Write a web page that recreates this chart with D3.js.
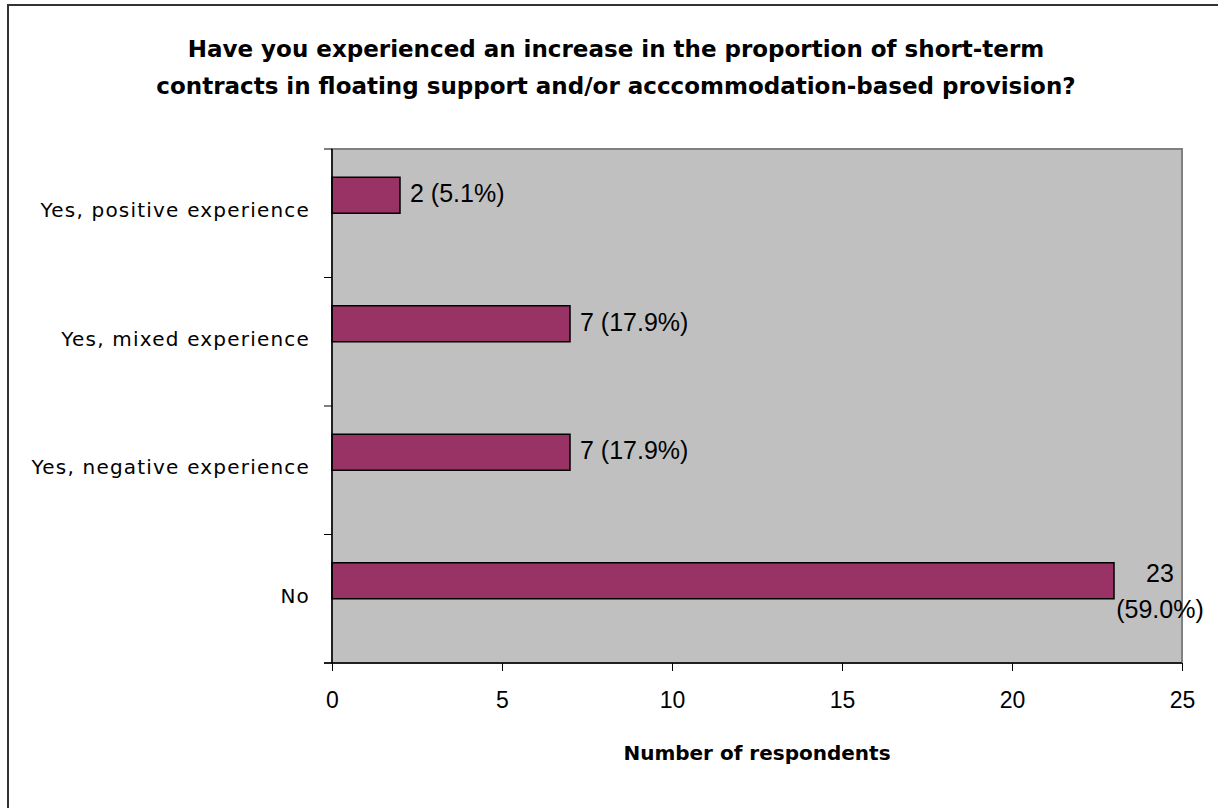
<!DOCTYPE html>
<html>
<head>
<meta charset="utf-8">
<script src="https://cdn.jsdelivr.net/npm/d3@7"></script>
<style>
  body { margin: 0; background: #fff; }
  svg { display: block; }
  .cat text { font-family: "DejaVu Sans", Verdana, sans-serif; font-size: 20px; letter-spacing: 1.2px; fill: #000; }
  .xaxis text { font-family: "Liberation Sans", Arial, sans-serif; font-size: 23px; fill: #000; }
  .val { font-family: "Liberation Sans", Arial, sans-serif; font-size: 25px; fill: #000; }
  .title { font-family: "DejaVu Sans", Verdana, sans-serif; font-weight: bold; font-size: 23px; }
</style>
</head>
<body>
<script>
// data
const categories = ["Yes, positive experience", "Yes, mixed experience", "Yes, negative experience", "No"];
const counts = [2, 7, 7, 23];
const labels = ["2 (5.1%)", "7 (17.9%)", "7 (17.9%)", "23 (59.0%)"];
const xTicks = [0, 5, 10, 15, 20, 25];
const titleLines = ["Have you experienced an increase in the proportion of short-term",
                    "contracts in floating support and/or acccommodation-based provision?"];

const W = 1218, H = 808;
const plot = { left: 332, top: 149, right: 1182, bottom: 663 };
const barH = 36;

const svg = d3.select("body").append("svg")
    .attr("width", W)
    .attr("height", H);

// outer frame
svg.append("rect")
    .attr("x", 8).attr("y", 5)
    .attr("width", W + 20).attr("height", H + 20)
    .attr("fill", "#fff")
    .attr("stroke", "#333")
    .attr("stroke-width", 2);

// title
svg.append("text")
    .attr("class", "title")
    .attr("text-anchor", "middle")
    .selectAll("tspan")
    .data(titleLines)
    .enter().append("tspan")
    .attr("x", 616)
    .attr("y", (d, i) => 57 + i * 37)
    .text(d => d);

const x = d3.scaleLinear()
    .domain([0, 25])
    .range([plot.left, plot.right]);

const y = d3.scaleBand()
    .domain(categories)
    .range([plot.top, plot.bottom]);

// plot background
svg.append("rect")
    .attr("x", plot.left).attr("y", plot.top)
    .attr("width", plot.right - plot.left)
    .attr("height", plot.bottom - plot.top)
    .attr("fill", "#c0c0c0")
    .attr("stroke", "#808080")
    .attr("stroke-width", 2);

// bars (sit just above each band centre)
svg.selectAll("rect.bar")
    .data(counts)
    .enter().append("rect")
    .attr("class", "bar")
    .attr("x", x(0))
    .attr("y", (d, i) => y(categories[i]) + y.bandwidth() / 2 - barH)
    .attr("width", d => x(d) - x(0))
    .attr("height", barH)
    .attr("fill", "#993366")
    .attr("stroke", "#000")
    .attr("stroke-width", 1.5);

// value labels
svg.selectAll("text.val")
    .data(counts)
    .enter().append("text")
    .attr("class", "val")
    .each(function (d, i) {
        const t = d3.select(this);
        const cy = y(categories[i]) + y.bandwidth() / 2 - barH / 2;
        if (d > 20) {
            // wrapped label near the plot edge
            const parts = labels[i].split(" ");
            t.attr("text-anchor", "middle");
            parts.forEach((p, k) => {
                t.append("tspan")
                    .attr("x", x(d) + 46)
                    .attr("y", cy + 1 + k * 36)
                    .text(p);
            });
        } else {
            t.attr("x", x(d) + 10)
                .attr("y", cy + 7)
                .text(labels[i]);
        }
    });

// category axis
const yAxis = svg.append("g")
    .attr("class", "cat")
    .attr("transform", "translate(" + plot.left + ",0)")
    .call(d3.axisLeft(y).tickSize(0).tickPadding(22));
yAxis.select(".domain").remove();
yAxis.selectAll("text").attr("dy", "4px");

// category separators
svg.selectAll("line.sep")
    .data(categories.concat(["end"]))
    .enter().append("line")
    .attr("x1", plot.left - 8).attr("x2", plot.left)
    .attr("y1", (d, i) => i < categories.length ? y(d) : plot.bottom)
    .attr("y2", (d, i) => i < categories.length ? y(d) : plot.bottom)
    .attr("stroke", "#000");

// left axis line
svg.append("line")
    .attr("x1", plot.left).attr("x2", plot.left)
    .attr("y1", plot.top).attr("y2", plot.bottom)
    .attr("stroke", "#000").attr("stroke-width", 1.5);

// x axis
const xAxis = svg.append("g")
    .attr("class", "xaxis")
    .attr("transform", "translate(0," + plot.bottom + ")")
    .call(d3.axisBottom(x).tickValues(xTicks).tickSize(8).tickPadding(21).tickSizeOuter(0));
xAxis.select(".domain").attr("stroke", "#000").attr("stroke-width", 1.5)
    .attr("d", "M" + (plot.left - 8) + ",0H" + plot.right);
xAxis.selectAll("line").attr("stroke", "#000");

svg.append("text")
    .attr("class", "title")
    .style("font-size", "20px")
    .attr("x", (plot.left + plot.right) / 2)
    .attr("y", 760)
    .attr("text-anchor", "middle")
    .text("Number of respondents");
</script>
</body>
</html>
